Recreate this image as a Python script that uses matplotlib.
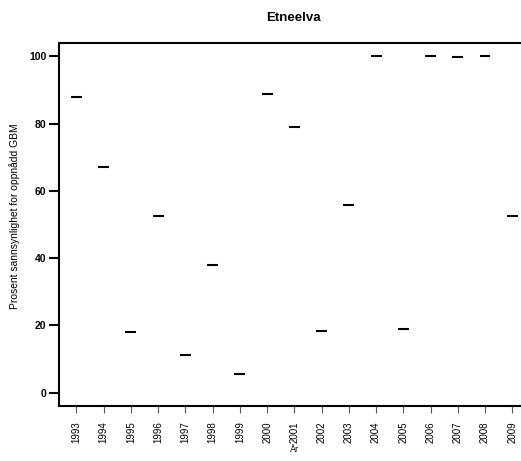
import numpy as np
import matplotlib
matplotlib.use('Agg')
import matplotlib.pyplot as plt
from matplotlib import font_manager

years = ['1993', '1994', '1995', '1996', '1997', '1998', '1999', '2000', '2001',
         '2002', '2003', '2004', '2005', '2006', '2007', '2008', '2009']
values = [88.0, 67.1, 18.1, 52.5, 11.2, 38.0, 5.4, 88.9, 78.9,
          18.3, 55.7, 100.0, 19.0, 100.0, 99.7, 100.0, 52.5]
yticks = [0, 20, 40, 60, 80, 100]

# pick the regular (not narrow) Liberation Sans files
reg = None
bold = None
for f in font_manager.fontManager.ttflist:
    name = f.fname.split('/')[-1]
    if name == 'LiberationSans-Regular.ttf':
        reg = f.fname
    if name == 'LiberationSans-Bold.ttf':
        bold = f.fname
fp = font_manager.FontProperties(fname=reg) if reg else font_manager.FontProperties(family='DejaVu Sans')
fpb = font_manager.FontProperties(fname=bold) if bold else font_manager.FontProperties(family='DejaVu Sans', weight='bold')

fig = plt.figure(figsize=(5.21, 4.61), dpi=100)
ax = fig.add_axes([0.1132, 0.1193, 0.9035, 0.7874])

pos = np.arange(len(years))
half = 0.2
for p, v in zip(pos, values):
    ax.plot([p - half, p + half], [v, v], color='black', lw=1.5, solid_capstyle='butt')

ax.set_xlim(-0.64, len(years) - 1 + 0.64)
ax.set_ylim(-4, 104)

ax.set_xticks(pos)
ax.set_xticklabels(years, rotation=90)
ax.set_yticks(yticks)
ax.set_yticklabels([str(t) for t in yticks])
for t in ax.get_xticklabels():
    t.set_fontproperties(fp)
    t.set_fontsize(7)
for t in ax.get_yticklabels():
    t.set_fontproperties(fpb)
    t.set_fontsize(7.5)

ax.tick_params(axis='x', length=5, width=0.8, color='#555555', pad=6)
ax.tick_params(axis='y', length=7, width=1.5, pad=2)

for s in ax.spines.values():
    s.set_linewidth(1.5)

lab = fp.copy()
lab.set_size(6.5)
fig.text(0.565, 1 - 449 / 461, 'År', ha='center', va='center', fontproperties=lab)
lab2 = fp.copy()
lab2.set_size(7.4)
fig.text(15 / 521, 1 - 216 / 461, 'Prosent sannsynlighet for oppnådd GBM', ha='center', va='center',
         rotation=90, fontproperties=lab2)
tb = fpb.copy()
tb.set_size(9.5)
fig.text(0.564, 1 - 18 / 461, 'Etneelva', ha='center', va='center', fontproperties=tb)

fig.savefig('out.png', dpi=100)
